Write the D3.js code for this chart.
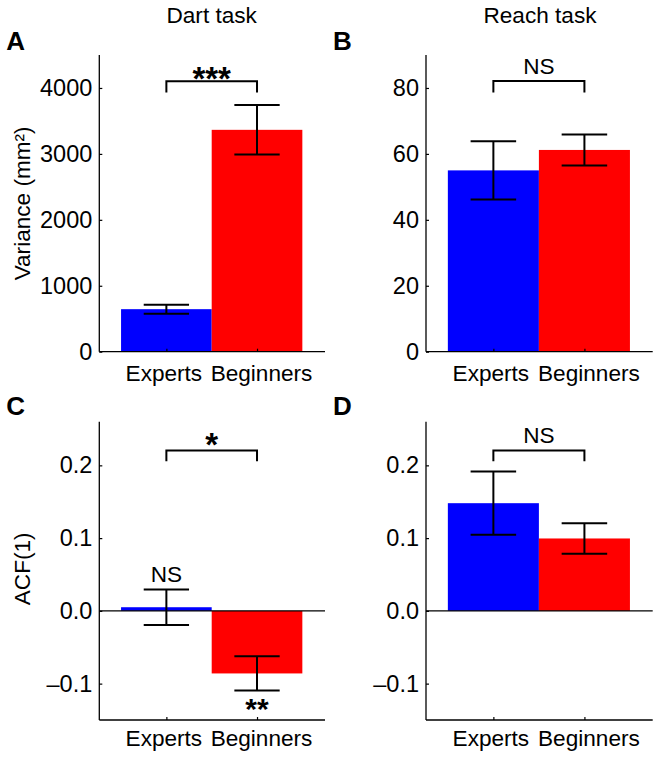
<!DOCTYPE html>
<html><head><meta charset="utf-8">
<script src="https://cdn.jsdelivr.net/npm/d3@7"></script>
<style>
html,body{margin:0;padding:0;background:#fff;}
svg{display:block;font-family:"Liberation Sans",Arial,Helvetica,sans-serif;}
</style></head>
<body>
<svg id="chart" width="659" height="758"></svg>
<script>
// ---- data ----
const groups = ["Experts", "Beginners"];
const groupX = [1, 2];

const dartVarMean = [645, 3365];
const dartVarErr = [68, 375];
const reachVarMean = [55, 61.2];
const reachVarErr = [8.8, 4.7];
const dartAcfMean = [0.005, -0.086];
const dartAcfErr = [0.0245, 0.0235];
const reachAcfMean = [0.148, 0.0995];
const reachAcfErr = [0.0435, 0.021];

const varTicks = [0, 1000, 2000, 3000, 4000];
const reachTicks = [0, 20, 40, 60, 80];
const acfTicks = [-0.1, 0, 0.1, 0.2];

const titles = ["Dart task", "Reach task"];
const panelLetters = ["A", "B", "C", "D"];
const sigLabels = ["***", "NS", "*", "NS"];

// ---- layout / style ----
const barColors = ["#0000ff", "#ff0000"];
const svg = d3.select("#chart");
const FS = 22.6;   // labels
const TS = 23.5;   // tick labels
const SS = 33;     // asterisks

const panels = [
  {mean:dartVarMean, err:dartVarErr, dom:[0,4500], ticks:varTicks, fmt:d3.format("d"),
   x0:99.3, x1:325, y0:55, y1:351.7, br:[4100,3930], sigSize:SS, sigBold:true, sigY:90, ylab:"Variance (mm²)", ylabOff:0, xlabY:381},
  {mean:reachVarMean, err:reachVarErr, dom:[0,90], ticks:reachTicks, fmt:d3.format("d"),
   x0:426, x1:652.7, y0:55, y1:351.7, br:[82.1,78.6], sigSize:FS, sigY:74, ylab:null, xlabY:381},
  {mean:dartAcfMean, err:dartAcfErr, dom:[-0.15,0.26], ticks:acfTicks, fmt:v=>d3.format(".1f")(v).replace("−","–"),
   x0:99.3, x1:325, y0:421.7, y1:720, br:[0.2203,0.2055], sigSize:SS, sigBold:true, sigY:456, ylab:"ACF(1)", ylabOff:-2, xlabY:745.5, zero:true,
   extra:[{t:"NS", x:1, y:581.7, size:FS},{t:"**", x:2, y:719, size:30, bold:true}]},
  {mean:reachAcfMean, err:reachAcfErr, dom:[-0.15,0.26], ticks:acfTicks, fmt:v=>d3.format(".1f")(v).replace("−","–"),
   x0:426, x1:652.7, y0:421.7, y1:720, br:[0.2203,0.2055], sigSize:FS, sigY:442.7, ylab:null, xlabY:745.5, zero:true}
];

panels.forEach((p, pi) => {
  const g = svg.append("g");
  const x = d3.scaleLinear().domain([0.26, 2.75]).range([p.x0, p.x1]);
  const y = d3.scaleLinear().domain(p.dom).range([p.y1, p.y0]);
  const bw = x(1.5) - x(0.5);
  const capHalf = (x(1.25) - x(0.75)) / 2;

  // bars
  g.selectAll("rect.bar").data(p.mean).enter().append("rect")
    .attr("x", (d,i) => x(groupX[i] - 0.5))
    .attr("width", bw)
    .attr("y", d => Math.min(y(d), y(0)))
    .attr("height", d => Math.abs(y(d) - y(0)))
    .attr("fill", (d,i) => barColors[i]);

  // zero line
  if (p.zero) {
    g.append("line").attr("x1", p.x0).attr("x2", p.x1).attr("y1", y(0)).attr("y2", y(0))
      .attr("stroke", "#000").attr("stroke-width", 1.3);
  }

  // error bars
  p.mean.forEach((m, i) => {
    const cx = x(groupX[i]);
    const lo = y(m - p.err[i]), hi = y(m + p.err[i]);
    const eg = g.append("g").attr("stroke", "#000").attr("stroke-width", 2);
    eg.append("line").attr("x1", cx).attr("x2", cx).attr("y1", lo).attr("y2", hi);
    eg.append("line").attr("x1", cx - capHalf).attr("x2", cx + capHalf).attr("y1", lo).attr("y2", lo);
    eg.append("line").attr("x1", cx - capHalf).attr("x2", cx + capHalf).attr("y1", hi).attr("y2", hi);
  });

  // axes
  const yAxis = d3.axisLeft(y).tickValues(p.ticks).tickSize(-3).tickPadding(7).tickFormat(p.fmt);
  const ya = g.append("g").attr("transform", `translate(${p.x0},0)`).call(yAxis);
  const xAxis = d3.axisBottom(x).tickValues(groupX).tickSize(-3).tickPadding(0).tickFormat(() => "");
  const xa = g.append("g").attr("transform", `translate(0,${p.y1})`).call(xAxis);
  [ya, xa].forEach(a => {
    a.select(".domain").attr("stroke", "#000").attr("stroke-width", 1.3);
    a.selectAll(".tick line").attr("stroke", "#000").attr("stroke-width", 1.2);
  });
  xa.select(".domain").attr("d", `M${p.x0},0H${p.x1}`);
  ya.select(".domain").attr("d", `M0,${p.y1}V${p.y0}`);
  ya.selectAll(".tick text").attr("font-size", TS).attr("fill", "#000")
    .attr("font-family", "Liberation Sans, Arial, sans-serif");

  // category labels
  g.selectAll("text.cat").data(groups).enter().append("text")
    .attr("x", (d,i) => x(groupX[i]) + (i === 0 ? -2.5 : 4.5))
    .attr("y", p.xlabY).attr("text-anchor", "middle").attr("font-size", FS).text(d => d);

  // significance bracket
  const bx1 = x(1), bx2 = x(2);
  g.append("path")
    .attr("d", `M${bx1},${y(p.br[1])}V${y(p.br[0])}H${bx2}V${y(p.br[1])}`)
    .attr("fill", "none").attr("stroke", "#000").attr("stroke-width", 2);
  g.append("text").attr("x", (bx1 + bx2) / 2).attr("y", p.sigY)
    .attr("text-anchor", "middle").attr("font-size", p.sigSize)
    .attr("font-weight", p.sigBold ? "bold" : "normal").text(sigLabels[pi]);

  (p.extra || []).forEach(e => {
    g.append("text").attr("x", x(e.x)).attr("y", e.y).attr("text-anchor", "middle")
      .attr("font-size", e.size).attr("font-weight", e.bold ? "bold" : "normal").text(e.t);
  });

  // panel letter
  g.append("text").attr("x", p.x0 - 93).attr("y", p.y0 - 5 + (pi >= 2 ? -1.7 : 0))
    .attr("font-size", 26).attr("font-weight", "bold").text(panelLetters[pi]);

  // y label
  if (p.ylab) {
    g.append("text").attr("transform", `translate(30,${(p.y0 + p.y1) / 2 + p.ylabOff}) rotate(-90)`)
      .attr("text-anchor", "middle").attr("font-size", FS).text(p.ylab);
  }
});

// column titles
svg.selectAll("text.title").data(titles).enter().append("text")
  .attr("x", (d,i) => [211.7, 540][i]).attr("y", 23)
  .attr("text-anchor", "middle").attr("font-size", FS).text(d => d);
</script>
</body></html>
